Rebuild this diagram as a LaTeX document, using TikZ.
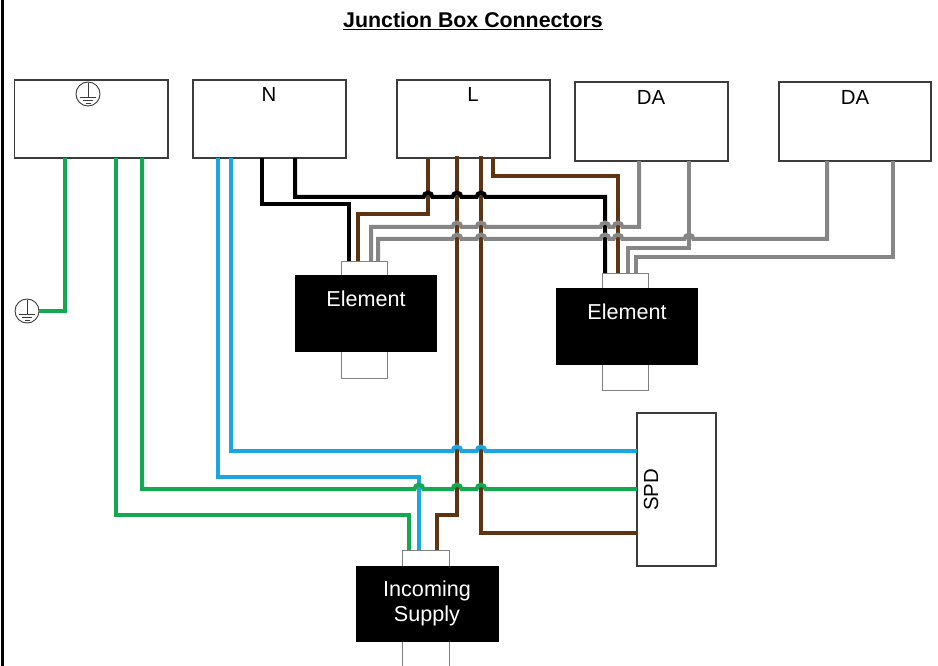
\documentclass[tikz,border=0pt]{standalone}
\usepackage{fontspec}
\setmainfont{Liberation Sans}
\definecolor{wgreen}{HTML}{14A850}
\definecolor{wblue}{HTML}{1CA5DE}
\definecolor{wbrown}{HTML}{5E3412}
\definecolor{wgray}{HTML}{868686}
\definecolor{framegray}{HTML}{3C3C3C}
\newcommand{\pxbox}[6]{\node[#6,minimum width={(#4-#2)*0.75pt},minimum height={(#5-#3)*0.75pt}] (#1) at ({(#2+#4)/2},{(#3+#5)/2}) {};}
\tikzset{
  x=0.75pt,y=-0.75pt,
  boxshape/.style={draw=framegray,line width=1.1pt,fill=white,inner sep=0pt,outer sep=0pt},
  stub/.style={draw=black!50,line width=0.7pt,fill=white,inner sep=0pt,outer sep=0pt},
  body/.style={fill=black,draw=none,inner sep=0pt,outer sep=0pt},
  wire/.style={line width=3pt,line join=miter},
  lbl/.style={font=\fontsize{15.3}{18}\selectfont,text=black,inner sep=0pt},
  bodylbl/.style={font=\fontsize{16.2}{18.7}\selectfont,text=white,inner sep=0pt,align=center},
  gndcircle/.style={circle,draw=framegray,line width=0.7pt,fill=white,minimum size=18pt,inner sep=0pt,outer sep=0pt},
  gndsym/.pic={
    \draw[framegray,line width=0.5pt] (0,-11) -- (0,3) (-8,3) -- (8,3) (-5,6) -- (5,6) (-2.5,9) -- (2.5,9);
  }
}
\begin{document}
\begin{tikzpicture}
\useasboundingbox (0,0) rectangle (938,666);
\fill[white] (0,0) rectangle (938,666);
\coordinate (frameT) at (2.5,0);
\coordinate (frameB) at (2.5,666);
\draw[black,line width=2pt] (frameT) -- (frameB);
\node[font=\bfseries\fontsize{16}{19}\selectfont,inner sep=0pt] (title) at (473,21) {\underline{Junction Box Connectors}};

% terminal boxes
\pxbox{E}{14.5}{80}{168}{158}{boxshape}
\pxbox{N}{193}{80}{346}{158}{boxshape}
\pxbox{L}{397}{80}{550}{158}{boxshape}
\pxbox{DA1}{575}{82}{728}{161}{boxshape}
\pxbox{DA2}{779}{82}{931}{161}{boxshape}
\pxbox{SPD}{637}{413}{716}{566}{boxshape}

% stubs and bodies
\pxbox{stubA}{341}{261}{387}{378}{stub}
\pxbox{elemA}{295}{275}{437}{352}{body}
\pxbox{stubB}{602}{273}{648}{390}{stub}
\pxbox{elemB}{556}{288}{698}{365}{body}
\pxbox{stubC}{402}{550}{449}{680}{stub}
\pxbox{inc}{356}{566}{499}{642}{body}

% vertical-running wires (under the hops)
\draw[wire,wbrown] (457,0 |- L.south) ++(0,-2) -- (457,515) -- (437,515) -- (437,0 |- stubC.north);
\draw[wire,wbrown] (481,0 |- L.south) ++(0,-2) -- (481,533) -- (SPD.west |- 0,533);
\draw[wire,wbrown] (428,0 |- L.south) -- (428,214) -- (358,214) -- (358,0 |- stubA.north);
\draw[wire,wbrown] (493,0 |- L.south) -- (493,176) -- (618,176) -- (618,0 |- stubB.north);
\draw[wire,black] (262,0 |- N.south) -- (262,204) -- (349,204) -- (349,0 |- stubA.north);
\draw[wire,wblue] (218,0 |- N.south) -- (218,477) -- (419,477) -- (419,0 |- stubC.north);
\draw[wire,wgreen] (116,0 |- E.south) -- (116,515) -- (409,515) -- (409,0 |- stubC.north);

% wires that hop
\draw[wire,black] (295,0 |- N.south) -- (295,197)
  \foreach \c in {428,457,481} { -- (\c-4.4,197) arc[start angle=180,end angle=0,radius=3.3pt] }
  -- (605,197) -- (605,0 |- stubB.north);
\draw[wire,wgray] (639,0 |- DA1.south) -- (639,227)
  \foreach \c in {618,605,481,457} { -- (\c+4.4,227) arc[start angle=0,end angle=180,radius=3.3pt] }
  -- (371,227) -- (371,0 |- stubA.north);
\draw[wire,wgray] (689,0 |- DA1.south) -- (689,248) -- (628,248) -- (628,0 |- stubB.north);
\draw[wire,wgray] (827,0 |- DA2.south) -- (827,239)
  \foreach \c in {689,618,605,481,457} { -- (\c+4.4,239) arc[start angle=0,end angle=180,radius=3.3pt] }
  -- (378,239) -- (378,0 |- stubA.north);
\draw[wire,wgray] (893,0 |- DA2.south) -- (893,257) -- (636,257) -- (636,0 |- stubB.north);
\draw[wire,wblue] (231,0 |- N.south) -- (231,451)
  \foreach \c in {457,481} { -- (\c-4.4,451) arc[start angle=180,end angle=0,radius=3.3pt] }
  -- (SPD.west |- 0,451);
\draw[wire,wgreen] (142,0 |- E.south) -- (142,489)
  \foreach \c in {419,457,481} { -- (\c-4.4,489) arc[start angle=180,end angle=0,radius=3.3pt] }
  -- (SPD.west |- 0,489);

% earth symbols
\node[gndcircle] (gndB) at (27,311) {};
\pic at (gndB.center) {gndsym};
\draw[wire,wgreen] (65,0 |- E.south) -- (65,311) -- (gndB.east);
\node[gndcircle] (gndT) at (88,94) {};
\pic at (gndT.center) {gndsym};

% labels
\node[lbl] (tN) at (269,94) {N};
\node[lbl] (tL) at (473,94) {L};
\node[lbl] (tDA1) at (651,97) {DA};
\node[lbl] (tDA2) at (855,97) {DA};
\node[lbl,rotate=90] (tSPD) at (651,490) {SPD};
\node[bodylbl] (tEA) at (366,299) {Element};
\node[bodylbl] (tEB) at (627,312) {Element};
\node[bodylbl] (tInc) at (427,603) {Incoming\\Supply};
\end{tikzpicture}
\end{document}
